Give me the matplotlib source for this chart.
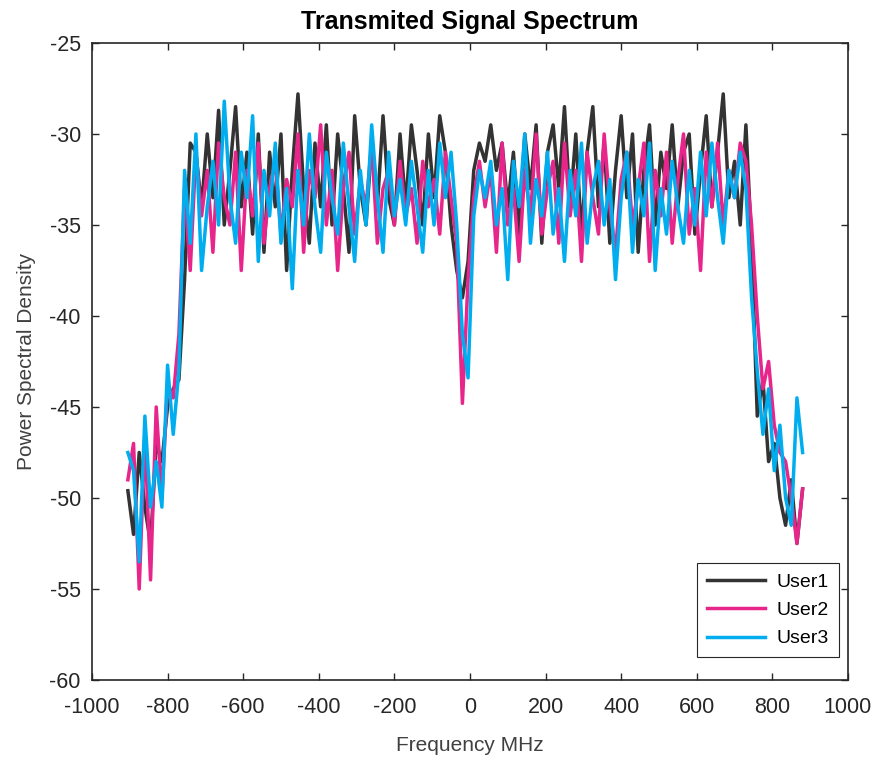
import numpy as np
import matplotlib
matplotlib.use("Agg")
import matplotlib.pyplot as plt

freq = np.arange(-905, 881, 15)

user1 = [
    -49.6, -52.0, -47.5, -50.5, -52.5, -47.0, -48.0, -45.0, -44.0, -43.5,
    -38.0, -30.5, -31.0, -34.0, -30.0, -33.5, -28.7, -35.0, -32.0, -28.5,
    -34.0, -31.0, -35.5, -30.0, -36.5, -31.0, -34.0, -30.0, -37.5, -32.0,
    -27.8, -33.0, -36.0, -30.5, -34.0, -29.5, -35.0, -30.0, -33.0, -36.5,
    -29.0, -33.0, -35.0, -30.5, -34.0, -29.0, -33.5, -35.0, -30.0, -34.0,
    -29.5, -32.0, -35.0, -30.0, -33.5, -29.0, -31.0, -35.0, -37.5, -39.0,
    -37.0, -32.0, -30.5, -31.5, -29.5, -32.0, -30.5, -34.0, -31.0, -35.5,
    -30.0, -33.0, -29.5, -36.0, -31.0, -29.5, -33.0, -28.5, -34.0, -30.0,
    -35.5, -31.0, -28.5, -34.0, -30.5, -36.0, -32.0, -29.0, -33.5, -30.0,
    -36.5, -32.0, -29.5, -35.0, -31.0, -33.0, -29.5, -34.0, -31.0, -30.0,
    -35.5, -32.0, -29.0, -34.0, -31.0, -27.8, -33.5, -31.5, -35.0, -29.5,
    -36.0, -45.5, -43.5, -48.0, -47.0, -50.0, -51.5, -49.0, -52.5, -49.5,
]
user2 = [
    -49.0, -47.0, -55.0, -46.5, -54.5, -45.0, -50.0, -43.8, -44.5, -41.0,
    -33.0, -37.5, -31.0, -34.5, -32.0, -36.5, -30.5, -33.5, -35.0, -31.0,
    -37.5, -32.0, -34.5, -30.5, -36.0, -33.0, -31.5, -35.5, -32.5, -34.0,
    -30.0, -36.5, -32.0, -33.5, -29.5, -35.0, -32.0, -37.5, -33.0, -31.0,
    -35.5, -32.5, -34.0, -30.5, -36.0, -33.0, -32.0, -35.0, -31.5, -34.5,
    -33.0, -36.0, -31.5, -34.0, -32.5, -35.5, -31.0, -33.5, -36.0, -44.8,
    -38.0, -33.5, -31.5, -34.0, -32.0, -36.5, -30.5, -35.0, -33.0, -37.0,
    -32.0, -34.5, -30.0, -35.5, -33.0, -31.5, -36.0, -30.5, -34.5, -32.0,
    -37.0, -31.0, -33.5, -35.5, -30.0, -34.0, -36.5, -32.5, -31.0, -35.0,
    -33.0, -30.5, -37.0, -32.0, -34.5, -31.0, -36.0, -32.5, -30.0, -35.5,
    -33.0, -37.5, -31.0, -34.0, -30.5, -35.0, -32.0, -33.5, -30.5, -31.5,
    -35.0, -40.0, -44.0, -42.5, -46.0, -47.5, -48.0, -50.0, -52.5, -49.5,
]
user3 = [
    -47.5, -48.5, -53.5, -45.5, -50.5, -48.0, -50.5, -42.7, -46.5, -43.0,
    -32.0, -36.0, -30.0, -37.5, -34.0, -31.5, -35.0, -28.2, -33.5, -36.0,
    -31.0, -33.5, -29.0, -37.0, -32.0, -34.5, -30.5, -36.0, -33.0, -38.5,
    -32.0, -35.0, -30.0, -34.0, -36.5, -31.0, -33.5, -35.5, -30.5, -34.0,
    -37.0, -32.0, -35.0, -29.5, -33.5, -36.5, -31.0, -34.5, -32.5, -35.0,
    -31.5, -34.0, -36.5, -32.0, -35.0, -30.5, -33.5, -31.0, -35.0, -41.0,
    -43.4, -34.5, -32.0, -33.5, -31.5, -35.0, -33.0, -38.0, -31.5, -34.0,
    -30.0, -36.0, -32.5, -34.5, -31.0, -35.5, -33.0, -37.0, -32.0, -34.5,
    -30.5, -36.0, -33.0, -31.5, -35.0, -32.5, -38.0, -33.5, -31.0, -36.5,
    -32.5, -34.5, -30.5, -37.5, -33.0, -35.5, -31.5, -34.0, -36.0, -32.0,
    -35.0, -31.0, -34.5, -30.5, -33.5, -36.0, -32.0, -33.5, -31.0, -33.0,
    -39.0, -43.0, -46.5, -44.0, -48.5, -46.0, -50.0, -51.5, -44.5, -47.5,
]
labels = ["User1", "User2", "User3"]
colors = ["#333333", "#E8258A", "#00AEEF"]

xticks = list(range(-1000, 1001, 200))
yticks = list(range(-60, -24, 5))

plt.rcParams['font.family'] = ['Liberation Sans', 'DejaVu Sans']
plt.rcParams['axes.unicode_minus'] = False

fig = plt.figure(figsize=(8.8, 7.62), dpi=100)
ax = fig.add_axes([0.1045, 0.1076, 0.8591, 0.836])

for y, lab, c in zip([user1, user2, user3], labels, colors):
    ax.plot(freq, y, color=c, lw=2.5, label=lab)

ax.set_xlim(-1000, 1000)
ax.set_ylim(-60, -25)
ax.set_xticks(xticks)
ax.set_yticks(yticks)
ax.tick_params(direction='in', length=5, width=1, colors='#262626',
               labelsize=15.5, top=True, right=True, labelcolor='#262626')
ax.tick_params(axis='x', pad=12)
ax.tick_params(axis='y', pad=8)
for s in ax.spines.values():
    s.set_color('#262626')
    s.set_linewidth(1.2)

ax.set_title("Transmited Signal Spectrum", fontsize=18, fontweight='bold', pad=10)
ax.set_xlabel("Frequency MHz", fontsize=15, color='#404040', labelpad=13)
ax.set_ylabel("Power Spectral Density", fontsize=15, color='#404040', labelpad=10)

leg = ax.legend(loc='lower right', fontsize=14, fancybox=False, framealpha=1,
                edgecolor='#262626', handlelength=3.0, borderaxespad=0,
                bbox_to_anchor=(0.988, 0.036), labelspacing=0.55,
                borderpad=0.5, handletextpad=0.6)
leg.get_frame().set_linewidth(0.8)

fig.savefig("out.png", dpi=100)
